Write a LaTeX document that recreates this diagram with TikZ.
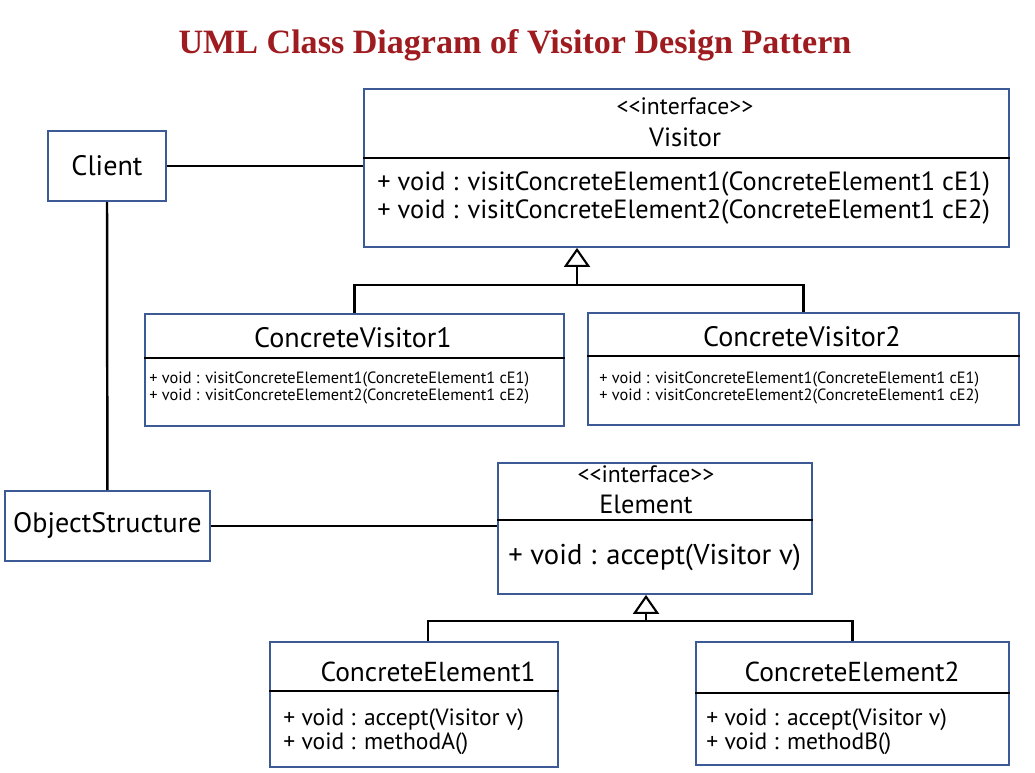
\documentclass[tikz,border=0pt]{standalone}
\usepackage{fontspec}
\setmainfont{PT Sans}
\newfontfamily\titlefont{Liberation Serif}
\usetikzlibrary{arrows.meta, positioning}
\definecolor{boxblue}{HTML}{3C5A96}
\definecolor{titlered}{HTML}{9E1B20}
\tikzstyle{classbox} = [rectangle, draw=boxblue, line width=1.1pt, fill=white, anchor=north west, inner sep=0pt]
\tikzstyle{sep} = [line width=1.6pt, black]
\tikzstyle{link} = [line width=1.4pt, black]
\tikzstyle{inherit} = [line width=1.4pt, -{Triangle[open, length=0.38cm, width=0.52cm, line width=1.2pt]}]
\tikzstyle{bigtext} = [inner sep=0pt, font=\fontsize{16}{18}\selectfont, align=center]
\tikzstyle{opstext} = [inner sep=0pt, anchor=west, align=left]

\begin{document}
\begin{tikzpicture}[x=0.02cm, y=-0.02cm]
      \useasboundingbox (0,0) rectangle (1035,773);

      \node (title) [font=\titlefont\bfseries\fontsize{19.4}{22}\selectfont, text=titlered] at (515,45) {UML Class Diagram of Visitor Design Pattern};

      % boxes
      \node (client) [classbox, minimum width=2.36cm, minimum height=1.4cm] at (47,130) {};
      \node (visitor) [classbox, minimum width=12.9cm, minimum height=3.16cm] at (363,88) {};
      \node (cv1) [classbox, minimum width=8.38cm, minimum height=2.24cm] at (144,313) {};
      \node (cv2) [classbox, minimum width=8.62cm, minimum height=2.24cm] at (587,312) {};
      \node (objstruct) [classbox, minimum width=4.1cm, minimum height=1.4cm] at (4,490) {};
      \node (element) [classbox, minimum width=6.28cm, minimum height=2.62cm] at (497,462) {};
      \node (ce1) [classbox, minimum width=5.76cm, minimum height=2.5cm] at (269,641) {};
      \node (ce2) [classbox, minimum width=6.26cm, minimum height=2.46cm] at (695,641) {};

      % compartments
      \draw [sep] (visitor.west |- 0,158) -- (visitor.east |- 0,158);
      \draw [sep] (cv1.west |- 0,358) -- (cv1.east |- 0,358);
      \draw [sep] (cv2.west |- 0,356) -- (cv2.east |- 0,356);
      \draw [sep] (element.west |- 0,520) -- (element.east |- 0,520);
      \draw [sep] (ce1.west |- 0,691) -- (ce1.east |- 0,691);
      \draw [sep] (ce2.west |- 0,693) -- (ce2.east |- 0,693);

      % texts
      \node (clientname) [bigtext] at (client.center) {Client};
      \node (osname) [bigtext] at (objstruct.center) {ObjectStructure};
      \node (visname) [bigtext, font=\fontsize{13.5}{18}\selectfont] at (685,122) {{<}{<}interface{>}{>}\\\fontsize{15}{18}\selectfont Visitor};
      \node (visops) [opstext, font=\fontsize{15}{16}\selectfont] at (377,198) {+ void : visitConcreteElement1(ConcreteElement1 cE1)\\+ void : visitConcreteElement2(ConcreteElement1 cE2)};
      \node (cv1name) [bigtext] at (353,338) {ConcreteVisitor1};
      \node (cv1ops) [opstext, font=\fontsize{9.3}{9.2}\selectfont] at (149,388) {+ void : visitConcreteElement1(ConcreteElement1 cE1)\\+ void : visitConcreteElement2(ConcreteElement1 cE2)};
      \node (cv2name) [bigtext] at (802,337) {ConcreteVisitor2};
      \node (cv2ops) [opstext, font=\fontsize{9.3}{9.2}\selectfont] at (599,388) {+ void : visitConcreteElement1(ConcreteElement1 cE1)\\+ void : visitConcreteElement2(ConcreteElement1 cE2)};
      \node (elname) [bigtext, font=\fontsize{13.5}{17.6}\selectfont] at (646,490) {{<}{<}interface{>}{>}\\\fontsize{15}{17.6}\selectfont Element};
      \node (elops) [opstext, font=\fontsize{16.3}{16}\selectfont] at (508,557) {+ void : accept(Visitor v)};
      \node (ce1name) [bigtext, font=\fontsize{15.6}{18}\selectfont] at (428,672) {ConcreteElement1};
      \node (ce1ops) [opstext, font=\fontsize{13.4}{13.6}\selectfont] at (283,732) {+ void : accept(Visitor v)\\+ void : methodA()};
      \node (ce2name) [bigtext, font=\fontsize{15.6}{18}\selectfont] at (852,672) {ConcreteElement2};
      \node (ce2ops) [opstext, font=\fontsize{13.4}{13.6}\selectfont] at (706,732) {+ void : accept(Visitor v)\\+ void : methodB()};

      % associations
      \draw [link] (client.east) -- (client.east -| visitor.west);
      \draw [link] (client) -- (objstruct);
      \draw [link] (objstruct.east) -- (objstruct.east -| element.west);

      % generalisations
      \coordinate (vjoin) at (577,285);
      \draw [link] (cv1.north) |- (vjoin) -| (cv2.north);
      \draw [inherit] (vjoin) -- (vjoin |- visitor.south);
      \coordinate (ejoin) at (646,621);
      \draw [link] ([xshift=0.28cm]ce1.north) |- (ejoin) -| (ce2.north);
      \draw [inherit] (ejoin) -- (ejoin |- element.south);
\end{tikzpicture}
\end{document}
